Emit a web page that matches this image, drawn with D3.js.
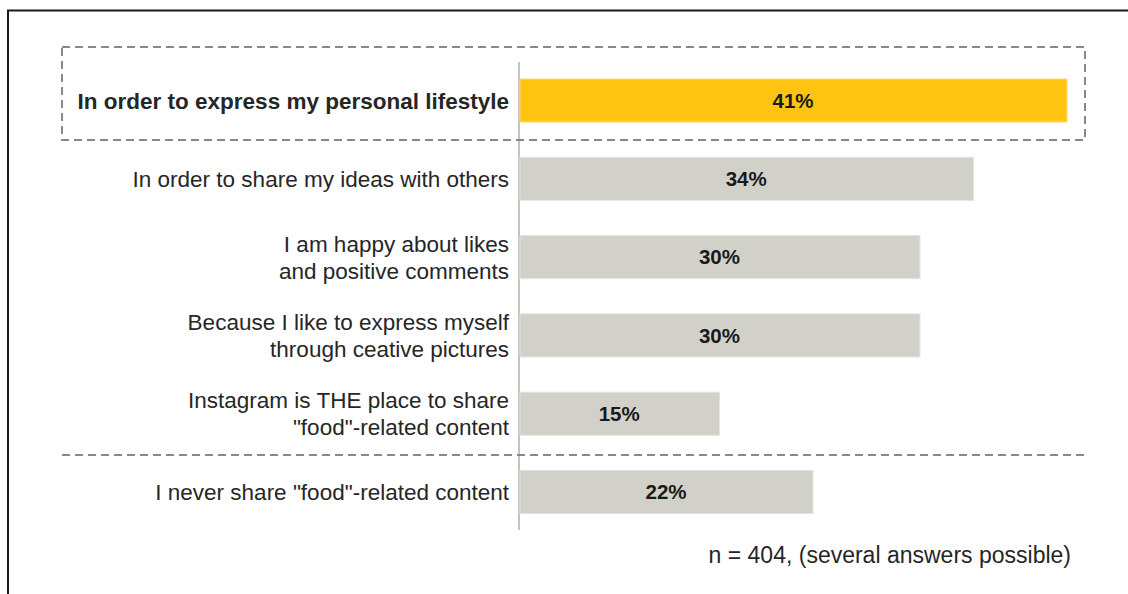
<!DOCTYPE html>
<html>
<head>
<meta charset="utf-8">
<script src="https://cdn.jsdelivr.net/npm/d3@7"></script>
<style>
  html, body { margin: 0; padding: 0; background: #fff; }
  svg { display: block; font-family: "Liberation Sans", Arial, sans-serif; }
</style>
</head>
<body>
<svg id="chart" width="1128" height="594"></svg>
<script>
// Reasons for sharing food content on Instagram (share of respondents, %)
const categories = [
  ["In order to express my personal lifestyle"],
  ["In order to share my ideas with others"],
  ["I am happy about likes", "and positive comments"],
  ["Because I like to express myself", "through ceative pictures"],
  ["Instagram is THE place to share", "\"food\"-related content"],
  ["I never share \"food\"-related content"]
];
const values = [41, 34, 30, 30, 15, 22];
const highlighted = [true, false, false, false, false, false];
const footnote = "n = 404, (several answers possible)";

const svg = d3.select("#chart");
const keys = categories.map((c, i) => i);

const x = d3.scaleLinear().domain([0, 41]).range([519, 1067]);
const y = d3.scaleBand().domain(keys).range([61.35, 531.15])
  .paddingInner(0.45).paddingOuter(0.225);

// outer frame (top and left edges)
svg.append("path")
  .attr("d", "M8,1000 L8,10.5 L1128,10.5")
  .attr("fill", "none").attr("stroke", "#1a1a1a").attr("stroke-width", 2);

// vertical baseline
svg.append("line")
  .attr("x1", x(0)).attr("x2", x(0))
  .attr("y1", 62).attr("y2", 530)
  .attr("stroke", "#b4b4b0").attr("stroke-width", 1.6);

// bars
svg.selectAll("rect.bar").data(keys).join("rect")
  .attr("class", "bar")
  .attr("x", x(0) + 1)
  .attr("y", i => y(i))
  .attr("width", i => x(values[i]) - x(0) - 1)
  .attr("height", y.bandwidth())
  .attr("fill", i => highlighted[i] ? "#ffc312" : "#d1d1c9")
  .attr("stroke", i => highlighted[i] ? "#ffdc7a" : "#e4e4de")
  .attr("stroke-width", 1);

// value labels in the bar centres
svg.selectAll("text.val").data(keys).join("text")
  .attr("class", "val")
  .attr("x", i => (x(0) + x(values[i])) / 2)
  .attr("y", i => y(i) + y.bandwidth() / 2)
  .attr("dy", "0.36em")
  .attr("text-anchor", "middle")
  .attr("font-size", 20.5)
  .attr("font-weight", "bold")
  .attr("fill", "#1a1a1a")
  .text(i => values[i] + "%");

// category labels, right aligned against the baseline
const lineGap = 27;
const lbl = svg.selectAll("text.cat").data(keys).join("text")
  .attr("class", "cat")
  .attr("text-anchor", "end")
  .attr("font-size", 22.5)
  .attr("font-weight", i => highlighted[i] ? "bold" : "normal")
  .attr("fill", "#262626");
lbl.each(function(i) {
  const lines = categories[i];
  const cy = y(i) + y.bandwidth() / 2;
  d3.select(this).selectAll("tspan").data(lines).join("tspan")
    .attr("x", 509)
    .attr("y", (d, j) => cy + (j - (lines.length - 1) / 2) * lineGap)
    .attr("dy", "0.36em")
    .text(d => d);
});

// dashed highlight box and separator
const dash = { stroke: "#8a8a84", "stroke-width": 2, "stroke-dasharray": "8,5", fill: "none" };
const box = svg.append("rect")
  .attr("x", 62).attr("y", 47).attr("width", 1085 - 62).attr("height", 140 - 47);
Object.entries(dash).forEach(([k, v]) => box.attr(k, v));
const sep = svg.append("line")
  .attr("x1", 62).attr("x2", 1085).attr("y1", 455).attr("y2", 455);
Object.entries(dash).forEach(([k, v]) => sep.attr(k, v));

// sample note
svg.append("text")
  .attr("x", 1071).attr("y", 555).attr("dy", "0.36em")
  .attr("text-anchor", "end")
  .attr("font-size", 23)
  .attr("fill", "#262626")
  .text(footnote);
</script>
</body>
</html>
